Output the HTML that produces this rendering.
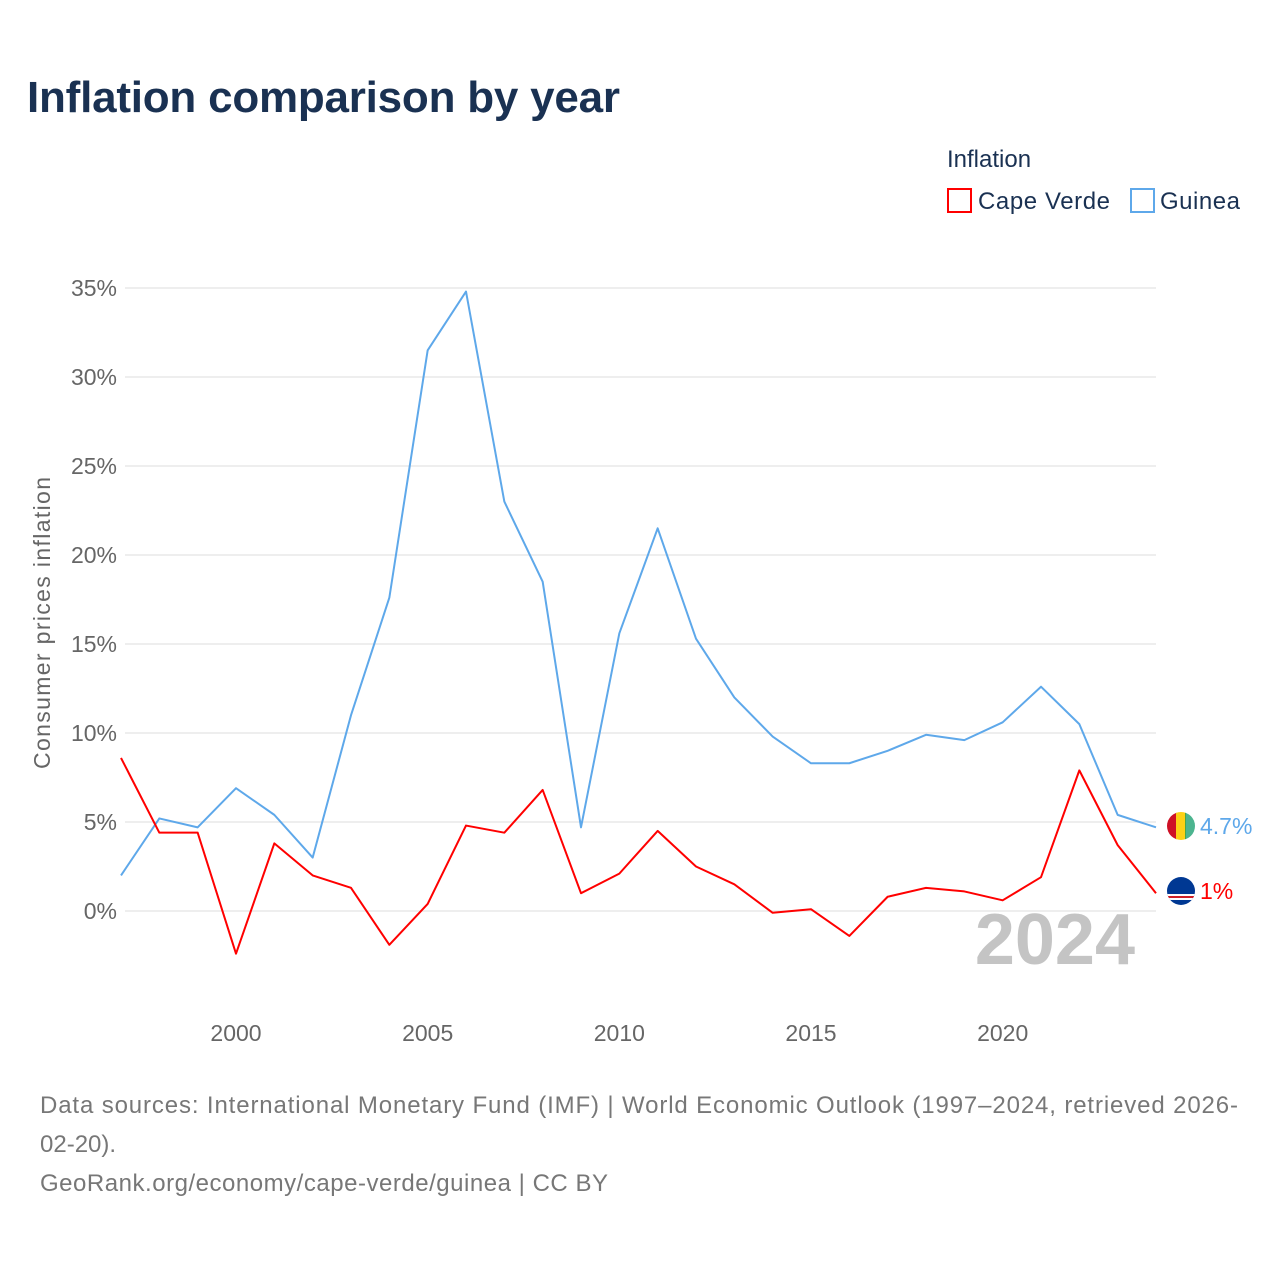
<!DOCTYPE html>
<html><head><meta charset="utf-8"><style>
body{margin:0;background:#fff;font-family:"Liberation Sans",sans-serif;}
svg text{font-family:"Liberation Sans",sans-serif;}
</style></head><body>
<svg width="1280" height="1280" xmlns="http://www.w3.org/2000/svg">
<text x="27" y="112" font-size="44" font-weight="bold" fill="#1a3152" textLength="593">Inflation comparison by year</text>
<g>
<text x="947" y="167" font-size="24" fill="#1a3152">Inflation</text>
<g><rect x="948" y="189" width="23" height="23" fill="none" stroke="#ff0000" stroke-width="2"/><text x="978" y="209" font-size="24" fill="#1a3152" textLength="132">Cape Verde</text></g>
<g><rect x="1131" y="189" width="23" height="23" fill="none" stroke="#5ea8ea" stroke-width="2"/><text x="1160" y="209" font-size="24" fill="#1a3152" textLength="80">Guinea</text></g>
</g>
<g id="grid"></g>
<g id="yt"></g>
<g id="xt"></g>
<text transform="translate(50,623) rotate(-90)" text-anchor="middle" font-size="23" fill="#666" textLength="292">Consumer prices inflation</text>
<text x="1135" y="964" text-anchor="end" font-size="72" font-weight="bold" fill="#c4c4c4">2024</text>
<g id="series"></g>
<g>
<clipPath id="c1"><circle cx="1181" cy="826" r="14"/></clipPath>
<g clip-path="url(#c1)"><rect x="1167" y="812" width="10" height="28" fill="#ce1126"/><rect x="1176" y="812" width="10" height="28" fill="#fcd116"/><rect x="1185" y="812" width="10" height="28" fill="#009460" opacity="0.7"/></g></g>
<g>
<clipPath id="c2"><circle cx="1181" cy="891" r="14"/></clipPath>
<g clip-path="url(#c2)"><rect x="1167" y="877" width="28" height="28" fill="#003893"/><rect x="1167" y="894" width="28" height="6" fill="#fff"/><rect x="1167" y="896" width="28" height="2" fill="#cf2027"/></g></g>
<text x="1200" y="834" font-size="23" fill="#5ea8ea">4.7%</text>
<text x="1200" y="899" font-size="23" fill="#ff0000">1%</text>
<text x="40" y="1113" font-size="24" fill="#777" textLength="1198">Data sources: International Monetary Fund (IMF) | World Economic Outlook (1997–2024, retrieved 2026-</text>
<text x="40" y="1152" font-size="24" fill="#777">02-20).</text>
<text x="40" y="1191" font-size="24" fill="#777" textLength="568">GeoRank.org/economy/cape-verde/guinea | CC BY</text>
</svg>
<script>
const years=[1997,1998,1999,2000,2001,2002,2003,2004,2005,2006,2007,2008,2009,2010,2011,2012,2013,2014,2015,2016,2017,2018,2019,2020,2021,2022,2023,2024];
const guinea=[2.0,5.2,4.7,6.9,5.4,3.0,11.0,17.6,31.5,34.8,23.0,18.5,4.7,15.6,21.5,15.3,12.0,9.8,8.3,8.3,9.0,9.9,9.6,10.6,12.6,10.5,5.4,4.7];
const capeVerde=[8.6,4.4,4.4,-2.4,3.8,2.0,1.3,-1.9,0.4,4.8,4.4,6.8,1.0,2.1,4.5,2.5,1.5,-0.1,0.1,-1.4,0.8,1.3,1.1,0.6,1.9,7.9,3.7,1.0];
const yTicks=[0,5,10,15,20,25,30,35];
const xTicks=[2000,2005,2010,2015,2020];
const NS="http://www.w3.org/2000/svg";
const x=v=>121+(v-1997)*(1156-121)/27;
const y=v=>911-v*17.8;
function mk(t,a,p){const e=document.createElementNS(NS,t);for(const k in a)e.setAttribute(k,a[k]);p.appendChild(e);return e;}
const grid=document.getElementById('grid'),yt=document.getElementById('yt'),xt=document.getElementById('xt'),ser=document.getElementById('series');
yTicks.forEach(t=>{
 const l=mk('line',{x1:125,x2:1156,y1:y(t),y2:y(t),stroke:'#e8e8e8','stroke-width':1.5},grid);
 
 
 const tx=mk('text',{x:117,y:y(t)+8,'text-anchor':'end','font-size':23,fill:'#666'},yt);
 tx.textContent=t+'%';
 
 
});
xTicks.forEach(t=>{
 const tx=mk('text',{x:x(t),y:1041,'text-anchor':'middle','font-size':23,fill:'#666'},xt);
 tx.textContent=t;
 
 
});
function line(vals,col,name){
 const p=mk('polyline',{points:vals.map((v,i)=>x(years[i])+','+y(v)).join(' '),fill:'none',stroke:col,'stroke-width':2,'stroke-linejoin':'round'},ser);
 
 
}
line(guinea,'#5ea8ea','guinea-line');
line(capeVerde,'#ff0000','cape-verde-line');
</script>
</body></html>
